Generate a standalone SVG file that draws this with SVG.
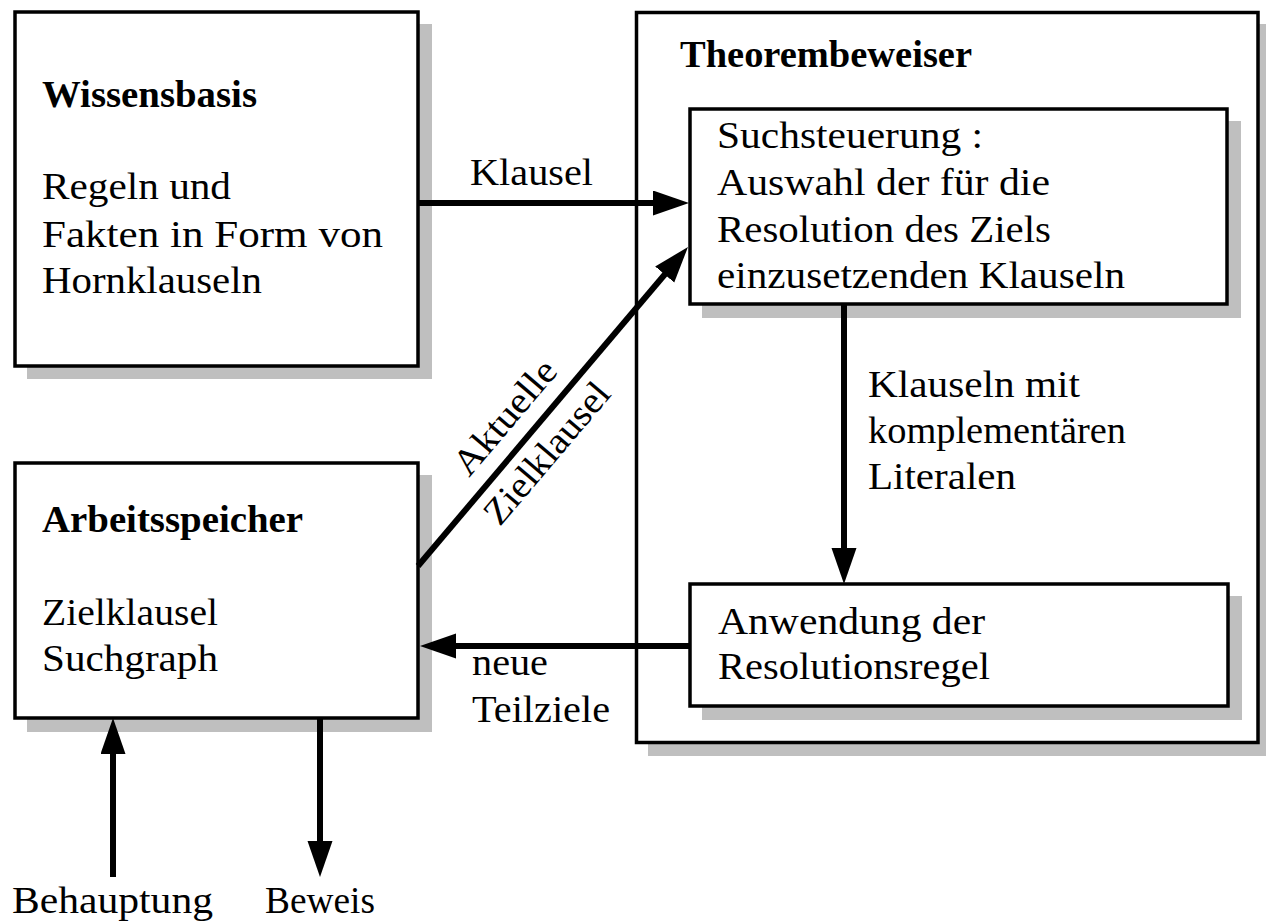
<svg xmlns="http://www.w3.org/2000/svg" width="1266" height="923" viewBox="0 0 1266 923">
  <style>
    .shadow { fill: #bfbfbf; stroke: none; }
    .box { fill: #ffffff; stroke: #000000; stroke-width: 3.5; }
    .t { font-family: "Liberation Serif", "Times New Roman", serif; font-size: 37px; fill: #000000; }
    .b { font-weight: bold; }
    .conn { stroke: #000000; stroke-width: 6; fill: none; }
  </style>
  <defs>
    <marker id="head" markerUnits="userSpaceOnUse" markerWidth="40" markerHeight="26" refX="2" refY="12.5" orient="auto">
      <path d="M0,0 L36,12.5 L0,25 Z" fill="#000000"/>
    </marker>
  </defs>

  <rect width="1266" height="923" fill="#ffffff"/>

  <!-- Theorembeweiser (outer container) -->
  <g id="theorembeweiser">
    <rect class="shadow" x="648" y="24" width="622" height="732"/>
    <rect class="box" x="636.5" y="12.5" width="621.5" height="730"/>
    <text class="t b" x="680" y="67" textLength="292" lengthAdjust="spacingAndGlyphs">Theorembeweiser</text>
  </g>

  <!-- Wissensbasis -->
  <g id="wissensbasis">
    <rect class="shadow" x="27" y="24" width="405" height="355"/>
    <rect class="box" x="15" y="12" width="403" height="354"/>
    <text class="t b" x="42" y="107" textLength="215" lengthAdjust="spacingAndGlyphs">Wissensbasis</text>
    <text class="t" x="42" y="199" textLength="189" lengthAdjust="spacingAndGlyphs">Regeln und</text>
    <text class="t" x="42" y="246.5" textLength="341" lengthAdjust="spacingAndGlyphs">Fakten in Form von</text>
    <text class="t" x="42" y="293" textLength="220" lengthAdjust="spacingAndGlyphs">Hornklauseln</text>
  </g>

  <!-- Arbeitsspeicher -->
  <g id="arbeitsspeicher">
    <rect class="shadow" x="27" y="475" width="405" height="257"/>
    <rect class="box" x="15" y="463" width="403" height="255"/>
    <text class="t b" x="42" y="532" textLength="261" lengthAdjust="spacingAndGlyphs">Arbeitsspeicher</text>
    <text class="t" x="42" y="625" textLength="176" lengthAdjust="spacingAndGlyphs">Zielklausel</text>
    <text class="t" x="42" y="671" textLength="176" lengthAdjust="spacingAndGlyphs">Suchgraph</text>
  </g>

  <!-- Suchsteuerung -->
  <g id="suchsteuerung">
    <rect class="shadow" x="702" y="121" width="539" height="197"/>
    <rect class="box" x="690" y="109" width="537" height="195"/>
    <text class="t" x="717" y="148" textLength="266" lengthAdjust="spacingAndGlyphs">Suchsteuerung :</text>
    <text class="t" x="717" y="195" textLength="333" lengthAdjust="spacingAndGlyphs">Auswahl der für die</text>
    <text class="t" x="717" y="241.5" textLength="334" lengthAdjust="spacingAndGlyphs">Resolution des Ziels</text>
    <text class="t" x="717" y="287.5" textLength="408" lengthAdjust="spacingAndGlyphs">einzusetzenden Klauseln</text>
  </g>

  <!-- Anwendung der Resolutionsregel -->
  <g id="anwendung">
    <rect class="shadow" x="702" y="596" width="540" height="124"/>
    <rect class="box" x="690" y="584" width="538" height="122"/>
    <text class="t" x="718" y="634" textLength="267" lengthAdjust="spacingAndGlyphs">Anwendung der</text>
    <text class="t" x="718" y="679" textLength="272" lengthAdjust="spacingAndGlyphs">Resolutionsregel</text>
  </g>

  <!-- Connectors -->
  <g id="connectors">
    <line class="conn" x1="418" y1="203" x2="655" y2="203" marker-end="url(#head)"/>
    <line class="conn" x1="418" y1="566" x2="666" y2="273" marker-end="url(#head)"/>
    <line class="conn" x1="844" y1="304" x2="844" y2="550" marker-end="url(#head)"/>
    <line class="conn" x1="691" y1="646" x2="454" y2="646" marker-end="url(#head)"/>
    <line class="conn" x1="113" y1="877" x2="113" y2="752" marker-end="url(#head)"/>
    <line class="conn" x1="320" y1="718" x2="320" y2="843" marker-end="url(#head)"/>
  </g>

  <!-- Connector labels -->
  <g id="labels">
    <text class="t" x="470" y="185" textLength="123" lengthAdjust="spacingAndGlyphs">Klausel</text>
    <text class="t" x="0" y="0" text-anchor="middle" textLength="139" lengthAdjust="spacingAndGlyphs" transform="translate(514,425) rotate(-49.67)">Aktuelle</text>
    <text class="t" x="0" y="0" text-anchor="middle" textLength="174" lengthAdjust="spacingAndGlyphs" transform="translate(556,461) rotate(-49.67)">Zielklausel</text>
    <text class="t" x="868" y="397" textLength="212" lengthAdjust="spacingAndGlyphs">Klauseln mit</text>
    <text class="t" x="868" y="443" textLength="258" lengthAdjust="spacingAndGlyphs">komplementären</text>
    <text class="t" x="868" y="489" textLength="148" lengthAdjust="spacingAndGlyphs">Literalen</text>
    <text class="t" x="472" y="675" textLength="76" lengthAdjust="spacingAndGlyphs">neue</text>
    <text class="t" x="472" y="722" textLength="138" lengthAdjust="spacingAndGlyphs">Teilziele</text>
    <text class="t" x="12" y="913" textLength="201" lengthAdjust="spacingAndGlyphs">Behauptung</text>
    <text class="t" x="265" y="913" textLength="110" lengthAdjust="spacingAndGlyphs">Beweis</text>
  </g>
</svg>
